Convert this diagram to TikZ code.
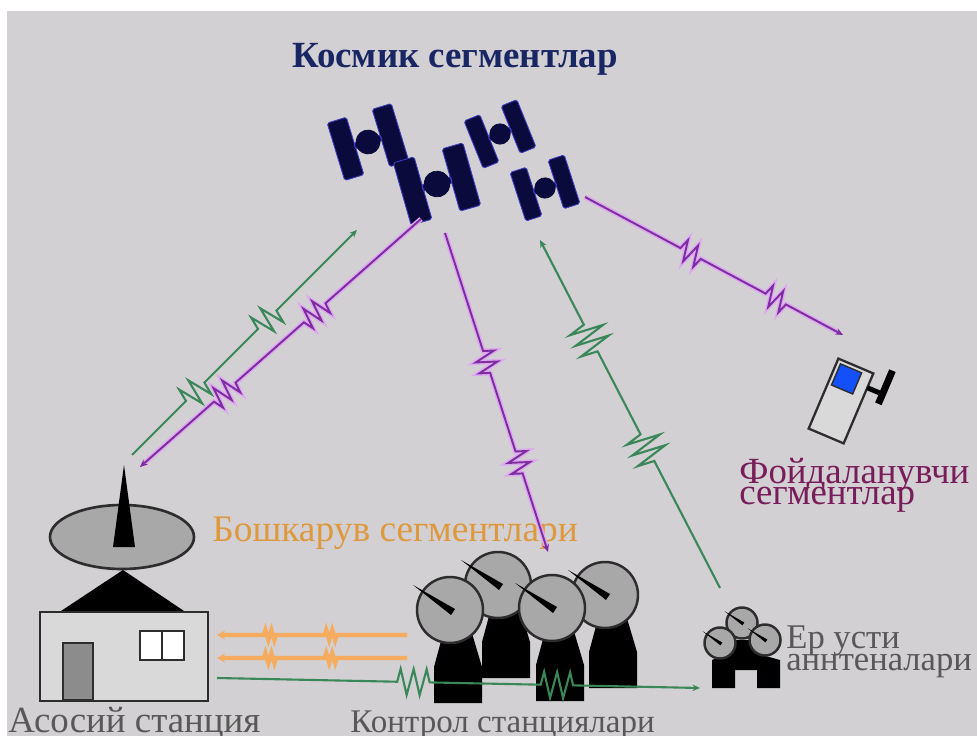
\documentclass[tikz,border=0pt]{standalone}
\usepackage{fontspec}
\setmainfont{Liberation Serif}
\usepackage{tikz}
\usetikzlibrary{arrows.meta,decorations.pathmorphing,calc}
\definecolor{bgray}{RGB}{210,208,210}
\definecolor{satfill}{RGB}{10,10,60}
\definecolor{satedge}{RGB}{60,60,190}
\definecolor{dishgray}{RGB}{168,168,168}
\definecolor{edgegray}{RGB}{45,45,45}
\definecolor{housefill}{RGB}{218,217,218}
\definecolor{doorgray}{RGB}{140,140,140}
\definecolor{lnkgreen}{RGB}{58,135,90}
\definecolor{lnkviolet}{RGB}{125,45,160}
\definecolor{lnkhalo}{RGB}{222,168,240}
\definecolor{lnkorange}{RGB}{245,172,95}
\definecolor{spacenavy}{RGB}{25,38,100}
\definecolor{ctlorange}{RGB}{222,152,62}
\definecolor{usrplum}{RGB}{120,28,90}
\definecolor{hubgray}{RGB}{88,88,88}
\definecolor{scrblue}{RGB}{20,80,250}
\tikzset{
  lbl/.style  = {inner sep=0pt, font=\fontsize{19}{20}\selectfont},
  grn/.style  = {draw=lnkgreen, line width=1.2pt},
  vio/.style  = {draw=lnkviolet, line width=1.1pt, preaction={draw=lnkhalo, line width=2.8pt}},
  org/.style  = {draw=lnkorange, line width=2.4pt},
  tip/.style  = {-{Stealth[length=1.5mm,width=1.3mm]}},
  otip/.style = {-{Stealth[length=1.6mm,width=1.8mm]}},
  zzg/.style  = {decoration={zigzag, segment length=2.6mm, amplitude=2.6mm}},
  zzw/.style  = {decoration={zigzag, segment length=2.4mm, amplitude=3.4mm}},
  zzv/.style  = {decoration={zigzag, segment length=2.3mm, amplitude=2.1mm}},
  zzo/.style  = {decoration={zigzag, segment length=1.2mm, amplitude=1mm}},
  sat/.pic    = {
    \filldraw[fill=satfill, draw=satedge, line width=0.5pt, rounded corners=1pt]
      (-33.5,-30) rectangle (-13.5,30) (13.5,-30) rectangle (33.5,30) (-14,-3) rectangle (14,3);
    \filldraw[fill=satfill, draw=satfill] (0,0) circle (12);
  },
  dishhead/.pic = {
    \filldraw[fill=dishgray, draw=edgegray, line width=1.4pt] (0,0) circle (33);
    \fill[black] (-37,-25) -- (1,5) -- (5,-1) -- cycle;
  },
  dish/.pic   = {
    \fill[black] (-6,20) -- (21,20) -- (32,57) -- (32,93) -- (-16,93) -- (-16,57) -- cycle;
    \pic {dishhead};
  },
}
\begin{document}
\begin{tikzpicture}[x=0.02cm, y=-0.02cm]
  \useasboundingbox (0,0) rectangle (977,736);
  \fill[white] (0,0) rectangle (977,736);
  \fill[bgray] (7,11) rectangle (977,736);

  % space segment
  \node[lbl, font=\fontsize{21}{22}\selectfont\bfseries, text=spacenavy, anchor=base] (space-lbl) at (455,68) {Космик сегментлар};
  \pic[rotate=17] at (368,142) {sat};
  \pic[rotate=16, scale=1.08] at (437,184) {sat};
  \pic[rotate=22, scale=0.85] at (500,134) {sat};
  \pic[rotate=18, scale=0.85] at (545,188) {sat};
  \coordinate (sat1-in) at (357,230);
  \coordinate (sat2-out) at (421,219);
  \coordinate (sat2-dn) at (445,233);
  \coordinate (sat4-in) at (540,240);
  \coordinate (sat4-out) at (585,197);

  % main station
  \filldraw[fill=dishgray, draw=edgegray, line width=1.5pt] (122,537) ellipse (72 and 32);
  \fill[black] (113,547) -- (135,547) -- (124,465) -- cycle;
  \fill[black] (58,613) -- (187,613) -- (123,570) -- cycle;
  \filldraw[fill=housefill, draw=edgegray, line width=1.7pt] (40,612) rectangle (208,701);
  \filldraw[fill=doorgray, draw=edgegray, line width=1.5pt] (63,643) rectangle (93,700);
  \filldraw[fill=white, draw=edgegray, line width=1.5pt] (140,631) rectangle (184,660);
  \draw[edgegray, line width=1.5pt] (162,631) -- (162,660);
  \coordinate (hub-tx) at (132,455);
  \coordinate (hub-rx) at (140,467);
  \coordinate (hub-o1) at (217,635);
  \coordinate (hub-o2) at (217,658);
  \coordinate (hub-g) at (217,678);
  \node[lbl, font=\fontsize{21}{22}\selectfont, text=hubgray, anchor=base west] (hub-lbl) at (8,732) {Асосий станция};

  % control stations
  \pic at (498,585) {dish};
  \pic at (605,595) {dish};
  \pic at (450,610) {dish};
  \pic at (552,608) {dish};
  \coordinate (ctl-rx) at (548,552);
  \coordinate (ctl-o1) at (407,635);
  \coordinate (ctl-o2) at (407,658);
  \node[lbl, font=\fontsize{21.3}{22}\selectfont, text=ctlorange, anchor=base west] (ctl-seg) at (212,541) {Бошкарув сегментлари};
  \node[lbl, font=\fontsize{18.8}{20}\selectfont, text=hubgray, anchor=base west] (ctl-lbl) at (350,732) {Контрол станциялари};

  % ground antennas
  \fill[black] (712,688) -- (712,660) -- (725,655) -- (728,640) -- (760,640) -- (762,655)
    -- (780,660) -- (780,688) -- (757,688) -- (757,670) -- (735,670) -- (735,688) -- cycle;
  \pic[scale=0.47] at (742,623) {dishhead};
  \pic[scale=0.47] at (720,643) {dishhead};
  \pic[scale=0.47] at (765,640) {dishhead};
  \coordinate (gnd-tx) at (720,588);
  \coordinate (gnd-g) at (700,688);
  \node[lbl, font=\fontsize{19.7}{20}\selectfont, text=hubgray, anchor=base west] (gnd-l1) at (786,648) {Ер усти};
  \node[lbl, font=\fontsize{19.7}{20}\selectfont, text=hubgray, anchor=base west] (gnd-l2) at (786,670) {аннтеналари};

  % user terminal
  \begin{scope}[shift={(841,401)}, rotate=-23]
    \filldraw[fill=housefill, draw=edgegray, line width=1.3pt] (-19,-38) rectangle (19,38);
    \filldraw[fill=scrblue, draw=edgegray, line width=0.8pt] (-15,-34) rectangle (8,-11);
    \fill[black] (19,-25) rectangle (33,-20);
    \fill[black] (32,-48) rectangle (39,-12);
  \end{scope}
  \coordinate (usr-rx) at (843,335);
  \node[lbl, font=\fontsize{21}{22}\selectfont, text=usrplum, anchor=base west] (usr-l1) at (739,483) {Фойдаланувчи};
  \node[lbl, font=\fontsize{21}{22}\selectfont, text=usrplum, anchor=base west] (usr-l2) at (739,504) {сегментлар};

  % radio links
  \draw[grn, tip] (hub-tx) -- ($(hub-tx)!0.24!(sat1-in)$) decorate[zzg]{-- ($(hub-tx)!0.33!(sat1-in)$)}
    -- ($(hub-tx)!0.56!(sat1-in)$) decorate[zzg]{-- ($(hub-tx)!0.65!(sat1-in)$)} -- (sat1-in);
  \draw[vio, tip] (sat2-out) -- ($(sat2-out)!0.34!(hub-rx)$) decorate[zzv]{-- ($(sat2-out)!0.42!(hub-rx)$)}
    -- ($(sat2-out)!0.66!(hub-rx)$) decorate[zzv]{-- ($(sat2-out)!0.74!(hub-rx)$)} -- (hub-rx);
  \draw[vio, tip] (sat2-dn) -- ($(sat2-dn)!0.37!(ctl-rx)$) decorate[zzv]{-- ($(sat2-dn)!0.445!(ctl-rx)$)}
    -- ($(sat2-dn)!0.685!(ctl-rx)$) decorate[zzv]{-- ($(sat2-dn)!0.76!(ctl-rx)$)} -- (ctl-rx);
  \draw[grn, tip] (gnd-tx) -- ($(gnd-tx)!0.365!(sat4-in)$) decorate[zzw]{-- ($(gnd-tx)!0.445!(sat4-in)$)}
    -- ($(gnd-tx)!0.68!(sat4-in)$) decorate[zzw]{-- ($(gnd-tx)!0.76!(sat4-in)$)} -- (sat4-in);
  \draw[vio, tip] (sat4-out) -- ($(sat4-out)!0.37!(usr-rx)$) decorate[zzv]{-- ($(sat4-out)!0.45!(usr-rx)$)}
    -- ($(sat4-out)!0.70!(usr-rx)$) decorate[zzv]{-- ($(sat4-out)!0.78!(usr-rx)$)} -- (usr-rx);

  % ground links
  \draw[org, otip] (ctl-o1) -- ($(ctl-o1)!0.37!(hub-o1)$) decorate[zzo]{-- ($(ctl-o1)!0.44!(hub-o1)$)}
    -- ($(ctl-o1)!0.69!(hub-o1)$) decorate[zzo]{-- ($(ctl-o1)!0.76!(hub-o1)$)} -- (hub-o1);
  \draw[org, otip] (ctl-o2) -- ($(ctl-o2)!0.37!(hub-o2)$) decorate[zzo]{-- ($(ctl-o2)!0.44!(hub-o2)$)}
    -- ($(ctl-o2)!0.69!(hub-o2)$) decorate[zzo]{-- ($(ctl-o2)!0.76!(hub-o2)$)} -- (hub-o2);
  \draw[grn, tip] (hub-g) -- ($(hub-g)!0.373!(gnd-g)$) decorate[zzg]{-- ($(hub-g)!0.447!(gnd-g)$)}
    -- ($(hub-g)!0.67!(gnd-g)$) decorate[zzg]{-- ($(hub-g)!0.75!(gnd-g)$)} -- (gnd-g);
\end{tikzpicture}
\end{document}
